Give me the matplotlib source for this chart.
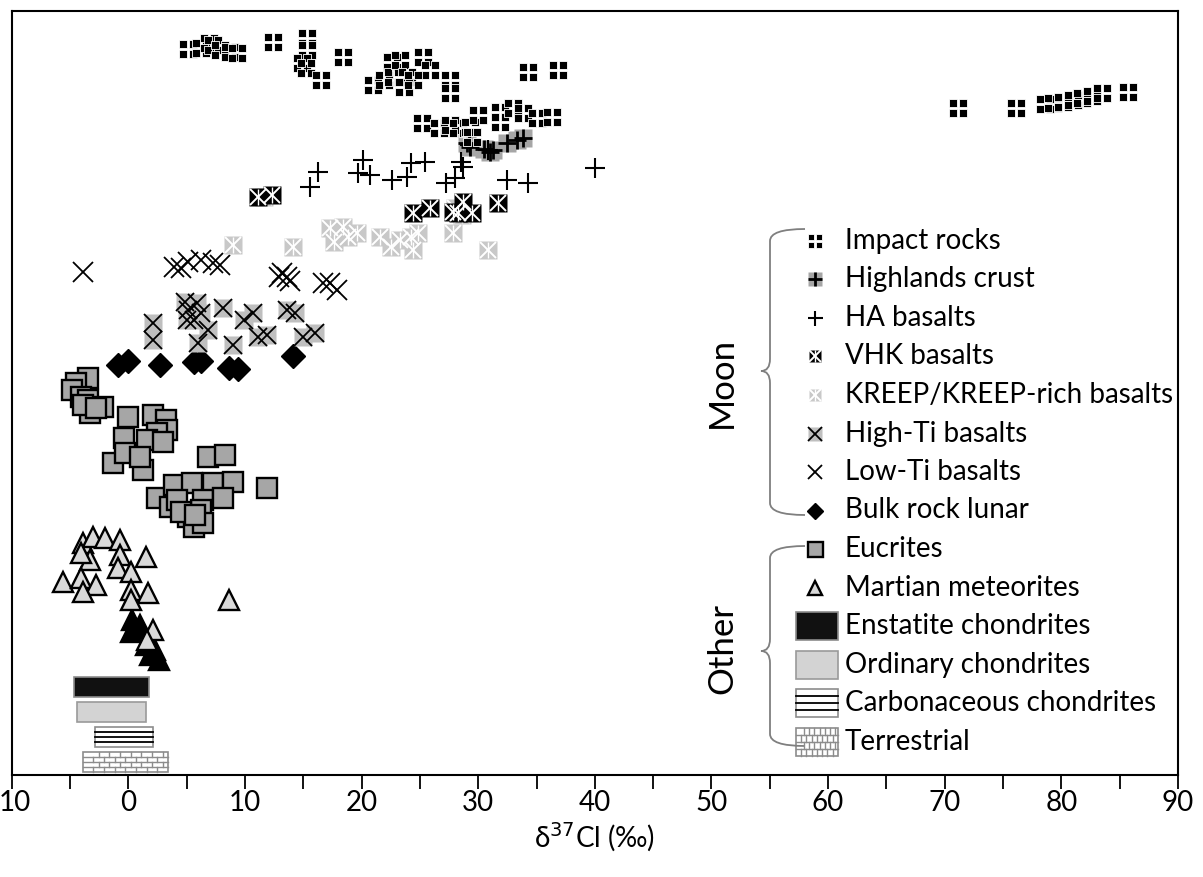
import matplotlib.pyplot as plt
from matplotlib.path import Path
from matplotlib.patches import Rectangle, PathPatch
from matplotlib.ticker import FixedLocator, FixedFormatter
from matplotlib.transforms import ScaledTranslation

plt.rcParams['font.family'] = ['Lato', 'DejaVu Sans']

# delta37Cl (permil) and arbitrary vertical offset (0-100) for each group
impact_x = [5.1, 6.2, 6.9, 7.3, 7.9, 8.7, 9.3, 12.4, 15.3, 15.3, 14.9, 15.2, 16.5, 18.4,
            21.0, 21.9, 22.6, 22.7, 23.3, 23.9, 23.6, 25.3, 25.9, 24.4, 27.6, 27.6, 34.3, 36.8,
            25.2, 26.6, 27.6, 28.3, 29.3, 30.0, 31.9, 31.9, 33.0, 33.8, 35.0, 36.3, 29.5,
            71.1, 76.1, 78.6, 79.3, 80.1, 81.0, 81.8, 82.6, 83.5, 85.7]
impact_y = [95.0, 95.2, 95.8, 95.5, 94.9, 94.6, 94.5, 95.9, 96.5, 94.9, 93.2, 92.5, 91.0, 94.0,
            90.3, 91.0, 93.3, 91.4, 93.6, 91.4, 90.1, 94.0, 92.3, 91.0, 91.0, 89.3, 92.0, 92.3,
            85.3, 84.7, 85.1, 84.7, 84.8, 86.4, 85.5, 86.8, 87.3, 86.6, 86.0, 86.1, 83.5,
            87.3, 87.3, 87.8, 88.0, 88.1, 88.4, 88.6, 88.9, 89.3, 89.4]

highland_x = [29.0, 29.3, 31.0, 31.3, 32.5, 33.3, 33.8, 30.5]
highland_y = [82.7, 82.2, 81.5, 81.8, 82.7, 83.1, 83.4, 81.9]

ha_x = [16.3, 15.6, 20.1, 19.7, 20.7, 22.6, 24.2, 25.4, 23.9, 27.2, 28.0, 28.7, 32.5, 34.3,
        40.0, 29.3, 30.8, 28.5]
ha_y = [78.9, 77.0, 80.5, 78.8, 78.5, 77.9, 80.1, 80.2, 78.3, 77.5, 78.1, 79.6, 77.9, 77.5,
        79.5, 82.5, 81.8, 80.2]

vhk_x = [11.1, 12.3, 24.4, 25.9, 27.8, 28.7, 29.5, 31.7, 28.3]
vhk_y = [75.7, 75.9, 73.6, 74.2, 73.7, 75.0, 73.6, 74.9, 73.6]

kreep_x = [9.0, 14.1, 17.3, 18.4, 18.8, 19.6, 17.6, 21.6, 22.5, 24.2, 24.8, 24.4, 27.8,
           30.8, 23.3, 28.0, 28.6, 11.6]
kreep_y = [69.4, 69.1, 71.6, 71.7, 70.4, 70.9, 69.8, 70.4, 69.1, 70.4, 70.9, 68.7, 70.9,
           68.7, 70.0, 74.2, 73.3, 75.6]

lowti_x = [-3.9, 3.9, 4.5, 5.1, 6.2, 7.3, 7.9, 12.9, 13.6, 13.2, 16.7, 17.3, 17.9, 13.9]
lowti_y = [65.8, 66.5, 66.4, 67.1, 67.4, 67.0, 66.8, 65.2, 65.2, 65.7, 64.4, 64.4, 63.5, 64.6]

highti_x = [2.1, 2.1, 5.1, 5.6, 6.2, 6.0, 6.8, 8.1, 9.0, 9.9, 10.7, 11.1, 11.9, 13.6, 14.3,
            15.0, 16.0, 4.9, 5.9, 5.0]
highti_y = [59.2, 56.9, 60.9, 59.6, 60.5, 56.5, 58.2, 61.1, 56.3, 59.6, 60.5, 57.3, 57.6, 60.9,
            60.5, 57.3, 57.9, 61.9, 61.8, 59.6]

bulk_x = [-0.9, 0.0, 2.7, 5.6, 6.2, 8.6, 9.4, 14.1]
bulk_y = [53.7, 54.2, 53.7, 54.1, 54.2, 53.3, 53.1, 54.8]

eucrite_x = [-3.5, -4.5, -4.8, -4.1, -3.5, -2.2, -3.3, -3.9, -2.8, 0.0, 2.1, 3.2, 3.3, -0.4,
             2.5, 1.6, 3.0, -1.3, -0.3, 1.3, 1.0, 2.5, 3.6, 3.9, 5.5, 6.8, 8.3, 7.3, 9.0, 6.4,
             6.2, 5.1, 5.6, 6.4, 11.9, 4.2, 8.1, 4.5, 5.7]
eucrite_y = [52.0, 51.3, 50.4, 49.5, 49.1, 48.2, 47.4, 48.4, 48.0, 46.9, 47.1, 46.5, 45.2, 44.1,
             44.8, 43.8, 43.6, 40.8, 42.1, 39.9, 41.6, 36.3, 35.1, 38.0, 38.2, 41.6, 41.9, 38.2,
             38.4, 36.0, 34.7, 33.8, 32.5, 33.0, 37.6, 36.0, 36.3, 34.4, 34.0]

martian_x = [-3.9, -3.0, -2.0, -0.7, -3.3, -4.1, -0.7, 1.5, -5.6, -4.1, -2.8, -3.9, -0.9, 0.2,
             0.2, 1.7, 0.2, 8.6, 2.1, 1.6]
martian_y = [30.4, 31.2, 31.0, 30.8, 28.1, 29.1, 28.8, 28.5, 25.3, 25.8, 24.9, 24.0, 27.1, 26.6,
             24.2, 23.8, 22.9, 22.9, 19.0, 17.7]
martian_dark_x = [0.3, 0.6, 0.2, 1.0, 1.5, 1.9, 2.6, 2.3]
martian_dark_y = [20.3, 19.2, 18.7, 19.6, 17.0, 15.7, 15.1, 16.4]

# chondrite / terrestrial ranges (permil)
range_names = ['Enstatite chondrites', 'Ordinary chondrites',
               'Carbonaceous chondrites', 'Terrestrial']
range_lo = [-4.7, -4.4, -2.9, -3.9]
range_hi = [1.8, 1.5, 2.1, 3.4]

xticks = [-10, 0, 10, 20, 30, 40, 50, 60, 70, 80, 90]
xtick_labels = ['10', '0', '10', '20', '30', '40', '50', '60', '70', '80', '90']

W, H = 1203, 877
X0, X1, YT, YB = 11.7, 1178.0, 11.0, 775.0
fig = plt.figure(figsize=(W / 100, H / 100), dpi=100)
ax = fig.add_axes([X0 / W, 1 - YB / H, (X1 - X0) / W, (YB - YT) / H])
ax.set_xlim(-10, 90)
ax.set_ylim(0, 100)


def px(x, y):
    # pixel position -> data coordinates (for layout of legend/braces)
    return -10 + (x - X0) / (X1 - X0) * 100, (YB - y) / (YB - YT) * 100


# marker made of four small squares
g = 0.1
verts, codes = [], []
for sx in (-1, g):
    for sy in (-1, g):
        verts += [(sx, sy), (sx + 1 - g, sy), (sx + 1 - g, sy + 1 - g), (sx, sy + 1 - g), (sx, sy)]
        codes += [Path.MOVETO, Path.LINETO, Path.LINETO, Path.LINETO, Path.CLOSEPOLY]
quad = Path(verts, codes)

GRAY = '#a6a6a6'
LGRAY = '#c8c8c8'
MGRAY = '#bfbfbf'
TGRAY = '#d9d9d9'


def draw_group(key, x, y, scale=1.0):
    s = scale
    if key == 'impact':
        ax.plot(x, y, ls='none', marker=quad, ms=13.5 * s, mfc='black', mec='white', mew=0.6)
    elif key == 'highland':
        ax.plot(x, y, ls='none', marker='s', ms=13.5 * s, mfc=GRAY, mec='none')
        ax.plot(x, y, ls='none', marker='+', ms=13.5 * s, mec='black', mew=2)
    elif key == 'ha':
        ax.plot(x, y, ls='none', marker='+', ms=15 * s, mec='black', mew=1.5)
    elif key == 'vhk':
        ax.plot(x, y, ls='none', marker='s', ms=12.5 * s, mfc='black', mec='none')
        ax.plot(x, y, ls='none', marker='x', ms=11.5 * s, mec='white', mew=1.4)
        ax.plot(x, y, ls='none', marker='|', ms=11.5 * s, mec='white', mew=1.0)
    elif key == 'kreep':
        ax.plot(x, y, ls='none', marker='s', ms=12.5 * s, mfc=LGRAY, mec='none')
        ax.plot(x, y, ls='none', marker='x', ms=11.5 * s, mec='white', mew=1.4)
        ax.plot(x, y, ls='none', marker='|', ms=11.5 * s, mec='white', mew=1.0)
    elif key == 'highti':
        ax.plot(x, y, ls='none', marker='s', ms=13.5 * s, mfc=MGRAY, mec='none')
        ax.plot(x, y, ls='none', marker='x', ms=13.5 * s, mec='black', mew=1.3)
    elif key == 'lowti':
        ax.plot(x, y, ls='none', marker='x', ms=14 * s, mec='black', mew=1.3)
    elif key == 'bulk':
        ax.plot(x, y, ls='none', marker='D', ms=12 * s, mfc='black', mec='black')
    elif key == 'eucrite':
        ax.plot(x, y, ls='none', marker='s', ms=15 * s, mfc=GRAY, mec='black', mew=1.7)
    elif key == 'martian':
        ax.plot(x, y, ls='none', marker='^', ms=14.5 * s, mfc=TGRAY, mec='black', mew=1.7)
    elif key == 'martian_dark':
        ax.plot(x, y, ls='none', marker='^', ms=14.5 * s, mfc='black', mec='black', mew=1.7)


draw_group('eucrite', eucrite_x, eucrite_y)
draw_group('martian_dark', martian_dark_x, martian_dark_y)
draw_group('martian', martian_x, martian_y)
draw_group('bulk', bulk_x, bulk_y)
draw_group('highti', highti_x, highti_y)
draw_group('lowti', lowti_x, lowti_y)
draw_group('kreep', kreep_x, kreep_y)
draw_group('vhk', vhk_x, vhk_y)
draw_group('highland', highland_x, highland_y)
draw_group('ha', ha_x, ha_y)
draw_group('impact', impact_x, impact_y)


def brick_fill(x0, x1, y0, y1, nrows=4, nbricks=8):
    ax.add_patch(Rectangle((x0, y0), x1 - x0, y1 - y0, fc='white', ec='#8c8c8c', lw=1.2))
    dy = (y1 - y0) / nrows
    bw = (x1 - x0) / nbricks
    for r in range(nrows):
        ya, yb = y0 + r * dy, y0 + (r + 1) * dy
        if r > 0:
            ax.plot([x0, x1], [ya, ya], color='#8c8c8c', lw=1.0)
        off = 0 if r % 2 == 0 else bw / 2
        xv = x0 + off + bw
        while xv < x1 - 0.05:
            ax.plot([xv, xv], [ya, yb], color='#8c8c8c', lw=1.0)
            xv += bw


def range_box(i, x0, x1, y0, y1):
    if i == 0:
        ax.add_patch(Rectangle((x0, y0), x1 - x0, y1 - y0, fc='#111111', ec='#8c8c8c', lw=1.2))
    elif i == 1:
        ax.add_patch(Rectangle((x0, y0), x1 - x0, y1 - y0, fc='#d3d3d3', ec='#9a9a9a', lw=1.2))
    elif i == 2:
        ax.add_patch(Rectangle((x0, y0), x1 - x0, y1 - y0, fc='white', ec='#8c8c8c', lw=1.2))
        for k in range(1, 4):
            yy = y0 + k * (y1 - y0) / 4
            ax.plot([x0, x1], [yy, yy], color='black', lw=1.3)
    else:
        brick_fill(x0, x1, y0, y1)


# range bars at the bottom of the plot
bar_tops = [677, 702, 727, 752]
for i in range(len(range_names)):
    _, ytop = px(0, bar_tops[i])
    _, ybot = px(0, bar_tops[i] + 20)
    range_box(i, range_lo[i], range_hi[i], ybot, ytop)

# hand-drawn legend
legend_keys = ['impact', 'highland', 'ha', 'vhk', 'kreep', 'highti', 'lowti', 'bulk',
               'eucrite', 'martian']
legend_labels = ['Impact rocks', 'Highlands crust', 'HA basalts', 'VHK basalts',
                 'KREEP/KREEP-rich basalts', 'High-Ti basalts', 'Low-Ti basalts',
                 'Bulk rock lunar', 'Eucrites', 'Martian meteorites']
row0, step = 241, 38.5
for i, (k, lab) in enumerate(zip(legend_keys, legend_labels)):
    mx, my = px(815, row0 + i * step)
    draw_group(k, [mx], [my], scale=0.72)
    tx, ty = px(845, row0 + i * step)
    ax.text(tx, ty, lab, fontsize=20, va='center', ha='left')
for j, lab in enumerate(range_names):
    yc = row0 + (len(legend_keys) + j) * step
    x0, y0 = px(796, yc + 14)
    x1, y1 = px(838, yc - 14)
    range_box(j, x0, x1, y0, y1)
    tx, ty = px(845, yc)
    ax.text(tx, ty, lab, fontsize=20, va='center', ha='left')


def brace(ytop, ytip, ybot, xe=805, xl=770, xt=761):
    pts = [px(xe, ytop), px(xl, ytop), px(xl, ytop + 12), px(xl, ytop + 12),
           px(xl, ytip - 12), px(xl, ytip), px(xt, ytip), px(xl, ytip), px(xl, ytip + 12),
           px(xl, ybot - 12), px(xl, ybot), px(xe, ybot)]
    cds = [Path.MOVETO, Path.CURVE3, Path.CURVE3, Path.LINETO, Path.LINETO, Path.CURVE3,
           Path.CURVE3, Path.CURVE3, Path.CURVE3, Path.LINETO, Path.CURVE3, Path.CURVE3]
    ax.add_patch(PathPatch(Path(pts, cds), fc='none', ec='#7f7f7f', lw=1.3))


brace(229, 371, 515)
brace(546, 651, 746)
mx, my = px(722, 382)
ax.text(mx, my, 'Moon', rotation=90, fontsize=25, ha='center', va='center')
mx, my = px(722, 648)
ax.text(mx, my, 'Other', rotation=90, fontsize=25, ha='center', va='center')

ax.xaxis.set_major_locator(FixedLocator(xticks))
ax.xaxis.set_major_formatter(FixedFormatter(xtick_labels))
ax.xaxis.set_minor_locator(FixedLocator([-5, 5, 15, 25, 35, 45, 55, 65, 75, 85]))
ax.tick_params(axis='x', which='both', direction='out', length=10, width=1.3, labelsize=20,
               pad=1)
ax.set_yticks([])
for sp in ax.spines.values():
    sp.set_linewidth(1.5)
ax.set_xlabel('δ$^{37}$Cl (‰)', fontsize=20, labelpad=3)

# keep the leftmost tick label inside the canvas
first = ax.xaxis.get_major_ticks()[0].label1
first.set_transform(first.get_transform() + ScaledTranslation(2 / 72, 0, fig.dpi_scale_trans))

fig.savefig('out.png', dpi=100)
